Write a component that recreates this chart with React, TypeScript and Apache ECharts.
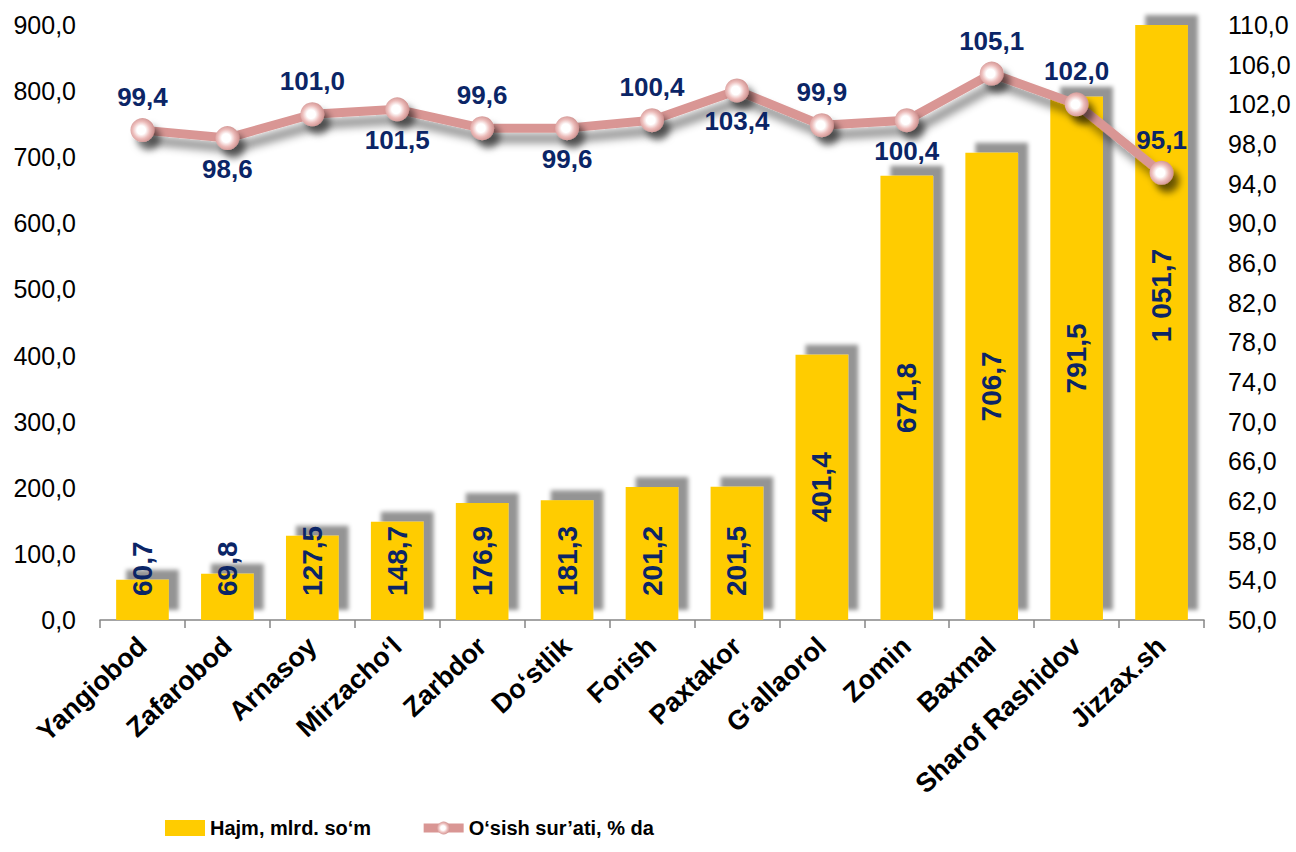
import React, { useEffect, useRef } from "react";
import * as echarts from "echarts";

const categories = [
  "Yangiobod", "Zafarobod", "Arnasoy", "Mirzacho‘l", "Zarbdor", "Do‘stlik", "Forish",
  "Paxtakor", "G‘allaorol", "Zomin", "Baxmal", "Sharof Rashidov", "Jizzax.sh",
];
const volume = [60.7, 69.8, 127.5, 148.7, 176.9, 181.3, 201.2, 201.5, 401.4, 671.8, 706.7, 791.5, 1051.7];
const growth = [99.4, 98.6, 101.0, 101.5, 99.6, 99.6, 100.4, 103.4, 99.9, 100.4, 105.1, 102.0, 95.1];
const labelSides = ["top", "bottom", "top", "bottom", "top", "bottom", "top", "bottom", "top", "bottom", "top", "top", "top"];

const seriesNames = ["Hajm, mlrd. so‘m", "O‘sish sur’ati, % da"];

const FONT = "'Liberation Sans', Arial, sans-serif";
const NAVY = "#0b2566";
const PINK = "#D99694";

function fmt(v: number): string {
  const s = v.toFixed(1).replace(".", ",");
  const [i, d] = s.split(",");
  const ii = i.replace(/\B(?=(\d{3})+(?!\d))/g, " ");
  return ii + "," + d;
}

export default function App() {
  const ref = useRef<HTMLDivElement>(null);
  useEffect(() => {
    if (!ref.current) return;
    const chart = echarts.init(ref.current, null, { renderer: "svg" });
    const barData = volume.map((v) => {
      const small = v < 300;
      return {
        value: v,
        label: small
          ? { position: "insideBottom", distance: 24, align: "left", verticalAlign: "middle" }
          : { position: "inside", align: "center", verticalAlign: "middle", offset: v > 900 ? [27, 0] : [0, 0] },
      };
    });
    const lineData = growth.map((v, i) => ({
      value: v,
      label: {
        position: labelSides[i],
        distance: labelSides[i] === "top" ? 8 : 6,
      },
    }));
    chart.setOption({
      animation: false,
      textStyle: { fontFamily: FONT },
      grid: { left: 100, right: 92, top: 25, bottom: 232, containLabel: false },
      legend: {
        left: 160,
        bottom: 9,
        itemGap: 48,
        textStyle: { fontFamily: FONT, fontSize: 20, fontWeight: "bold", color: "#000" },
        data: [
          { name: seriesNames[0], icon: "rect", itemStyle: { color: "#FFCC00", shadowBlur: 0, shadowOffsetX: 0, shadowOffsetY: 0 } },
          { name: seriesNames[1], lineStyle: { width: 9, color: PINK, shadowBlur: 0, shadowOffsetX: 0, shadowOffsetY: 0 }, itemStyle: { shadowBlur: 0, shadowOffsetX: 0, shadowOffsetY: 0 } },
        ],
        itemWidth: 40,
        itemHeight: 16,
      },
      xAxis: {
        type: "category",
        data: categories,
        boundaryGap: true,
        axisLine: { show: true, lineStyle: { color: "#868686", width: 1.5 } },
        axisTick: { show: true, length: 8, lineStyle: { color: "#868686", width: 1.5 } },
        axisLabel: {
          interval: 0,
          rotate: 43,
          margin: 22,
          fontFamily: FONT,
          fontSize: 27,
          fontWeight: "bold",
          color: "#000",
        },
      },
      yAxis: [
        {
          type: "value",
          min: 0,
          max: 900,
          interval: 100,
          splitLine: { show: false },
          axisLine: { show: false },
          axisTick: { show: false },
          axisLabel: { fontFamily: FONT, fontSize: 25, color: "#000", margin: 24, formatter: (v: number) => fmt(v) },
        },
        {
          type: "value",
          min: 50,
          max: 110,
          interval: 4,
          splitLine: { show: false },
          axisLine: { show: false },
          axisTick: { show: false },
          axisLabel: { fontFamily: FONT, fontSize: 25, color: "#000", margin: 24, formatter: (v: number) => fmt(v) },
        },
      ],
      series: [
        {
          name: seriesNames[0],
          type: "bar",
          yAxisIndex: 0,
          barWidth: "62%",
          clip: true,
          data: barData,
          itemStyle: {
            color: "#FFCC00",
            shadowColor: "rgba(0,0,0,0.42)",
            shadowBlur: 4,
            shadowOffsetX: 10,
            shadowOffsetY: -10,
          },
          label: {
            show: true,
            rotate: 90,
            fontFamily: FONT,
            fontSize: 28,
            fontWeight: "bold",
            color: NAVY,
            formatter: (p: any) => fmt(p.value),
          },
        },
        {
          name: seriesNames[1],
          type: "line",
          yAxisIndex: 1,
          data: lineData,
          symbol: "circle",
          symbolSize: 24,
          lineStyle: {
            color: PINK,
            width: 9,
            shadowColor: "rgba(0,0,0,0.45)",
            shadowBlur: 8,
            shadowOffsetX: 6,
            shadowOffsetY: 10,
          },
          itemStyle: {
            color: new echarts.graphic.RadialGradient(0.45, 0.5, 0.6, [
              { offset: 0, color: "#ffffff" },
              { offset: 0.3, color: "#ffffff" },
              { offset: 0.6, color: "#ecbcba" },
              { offset: 1, color: "#c58482" },
            ]),
            borderWidth: 0,
            shadowColor: "rgba(0,0,0,0.55)",
            shadowBlur: 7,
            shadowOffsetX: 6,
            shadowOffsetY: 8,
          },
          label: {
            show: true,
            fontFamily: FONT,
            fontSize: 26,
            fontWeight: "bold",
            color: NAVY,
            formatter: (p: any) => fmt(p.value),
          },
          z: 5,
        },
      ],
    });
    return () => chart.dispose();
  }, []);
  return (
    <div
      ref={ref}
      style={{ position: "absolute", left: 0, top: 0, width: 1296, height: 852, background: "#fff" }}
    />
  );
}
